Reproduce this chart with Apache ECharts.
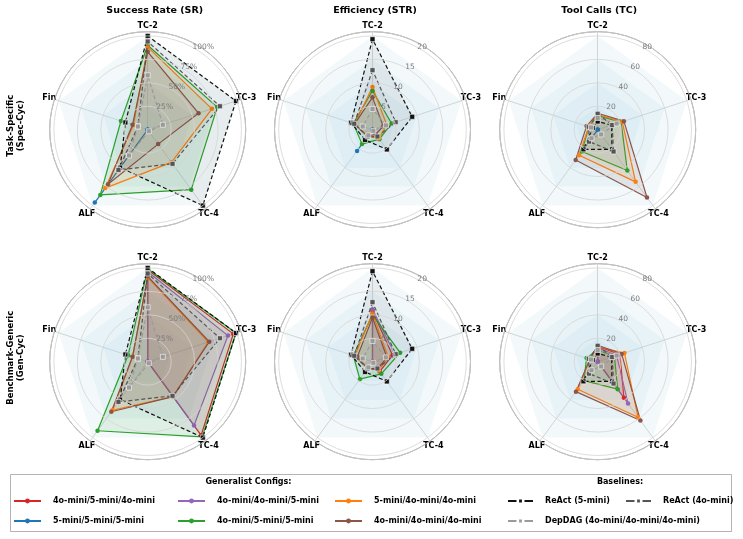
<!DOCTYPE html>
<html><head><meta charset="utf-8">
<script src="https://cdn.jsdelivr.net/npm/echarts@6/dist/echarts.min.js"></script>
<style>html,body{margin:0;padding:0;background:#fff}#c{width:743px;height:539px}</style>
</head><body><div id="c"></div>
<script>
// ---------- categories / ticks ----------
const axesNames = ['TC-2', 'TC-3', 'TC-4', 'ALF', 'Fin'];
const metricTitles = ['Success Rate (SR)', 'Efficiency (STR)', 'Tool Calls (TC)'];
const rowLabels = ['Task-Specific\n(Spec-Cyc)', 'Benchmark-Generic\n(Gen-Cyc)'];
const metricTopTick = [100, 20, 80];
const metricTickStep = [25, 5, 20];
const metricSuffix = ['%', '', ''];
const bgLevels = [0.25, 0.5, 0.75, 1.0];

// ---------- values, order [TC-2, TC-3, TC-4, ALF, Fin] ----------
// Task-Specific (Spec-Cyc)
const specSR_5m5m5m = [0, 0, 0, 96, 0];
const specSR_4o5m5m = [90, 78, 79, 86, 30];
const specSR_5m4o4o = [88, 72, 43, 77, 16];
const specSR_4o4o4o = [83, 57, 19, 72, 17];
const specSTR_5m5m5m = [0, 0, 0, 5.6, 0];
const specSTR_4o5m5m = [8.3, 4.3, 2.5, 3.8, 4.3];
const specSTR_5m4o4o = [9.1, 3.2, 2.3, 1.8, 4.0];
const specSTR_4o4o4o = [6.9, 2.4, 1.2, 1.8, 4.0];
const specTC_5m5m5m = [0, 0, 0, 20, 0];
const specTC_4o5m5m = [12, 21, 43, 23, 8];
const specTC_5m4o4o = [13, 22, 55, 27, 8];
const specTC_4o4o4o = [14, 23.5, 71.5, 32, 10];
// Benchmark-Generic (Gen-Cyc)
const genSR_4o5m4o = [98, 96, 97, 0, 0];
const genSR_4o4o5m = [96, 90, 84, 0, 0];
const genSR_4o5m5m = [99, 99, 99, 91, 22];
const genSR_5m4o4o = [90, 68, 46, 64, 17];
const genSR_4o4o4o = [91, 69, 46, 66, 17];
const genSTR_4o5m4o = [10.8, 4.5, 2.6, 0, 0];
const genSTR_4o4o5m = [11.2, 5.0, 1.5, 0, 0];
const genSTR_4o5m5m = [10.0, 6.2, 3.2, 4.6, 4.3];
const genSTR_5m4o4o = [10.3, 3.5, 2.3, 1.8, 4.0];
const genSTR_4o4o4o = [9.4, 3.2, 2.0, 1.8, 3.4];
const genTC_4o5m4o = [13, 20, 38, 0, 0];
const genTC_4o4o5m = [12, 17, 44, 0, 0];
const genTC_4o5m5m = [10, 15, 29, 20, 10];
const genTC_5m4o4o = [13, 24, 58.5, 29, 7];
const genTC_4o4o4o = [14, 21.5, 62, 31.6, 7];
// Baselines
const reactSR_5m = [100, 99, 100, 50, 25];
const reactSR_4o = [94, 81, 45, 53, 11];
const depdagSR = [58, 17, 2, 34, 11];
const reactSTR_5m = [19.3, 8.9, 5.2, 2.7, 4.8];
const reactSTR_4o = [12.7, 5.2, 1.8, 1.8, 4.1];
const depdagSTR = [4.4, 3.0, 0.3, 1.5, 2.2];
const reactTC_5m = [7, 12.5, 20.7, 20.7, 4.5];
const reactTC_4o = [13.5, 13, 23, 12.6, 8];
const depdagTC = [10, 17, 5, 9, 6];

// ---------- series names ----------
const N_RED = '4o-mini/5-mini/4o-mini', N_BLUE = '5-mini/5-mini/5-mini', N_PURPLE = '4o-mini/4o-mini/5-mini',
      N_GREEN = '4o-mini/5-mini/5-mini', N_ORANGE = '5-mini/4o-mini/4o-mini', N_BROWN = '4o-mini/4o-mini/4o-mini',
      N_R5 = 'ReAct (5-mini)', N_R4 = 'ReAct (4o-mini)', N_DD = 'DepDAG (4o-mini/4o-mini/4o-mini)';

const styles = {};
styles[N_RED] = {color: '#d62728', base: false};
styles[N_BLUE] = {color: '#1f77b4', base: false};
styles[N_PURPLE] = {color: '#9467bd', base: false};
styles[N_GREEN] = {color: '#2ca02c', base: false};
styles[N_ORANGE] = {color: '#ff7f0e', base: false};
styles[N_BROWN] = {color: '#8c564b', base: false};
styles[N_R5] = {color: '#111111', base: true};
styles[N_R4] = {color: '#555555', base: true};
styles[N_DD] = {color: '#9a9a9a', base: true};

const panels = [
  {row: 0, col: 0, entries: [[N_BLUE, specSR_5m5m5m], [N_GREEN, specSR_4o5m5m], [N_ORANGE, specSR_5m4o4o], [N_BROWN, specSR_4o4o4o], [N_R5, reactSR_5m], [N_R4, reactSR_4o], [N_DD, depdagSR]]},
  {row: 0, col: 1, entries: [[N_BLUE, specSTR_5m5m5m], [N_GREEN, specSTR_4o5m5m], [N_ORANGE, specSTR_5m4o4o], [N_BROWN, specSTR_4o4o4o], [N_R5, reactSTR_5m], [N_R4, reactSTR_4o], [N_DD, depdagSTR]]},
  {row: 0, col: 2, entries: [[N_BLUE, specTC_5m5m5m], [N_GREEN, specTC_4o5m5m], [N_ORANGE, specTC_5m4o4o], [N_BROWN, specTC_4o4o4o], [N_R5, reactTC_5m], [N_R4, reactTC_4o], [N_DD, depdagTC]]},
  {row: 1, col: 0, entries: [[N_RED, genSR_4o5m4o], [N_PURPLE, genSR_4o4o5m], [N_GREEN, genSR_4o5m5m], [N_ORANGE, genSR_5m4o4o], [N_BROWN, genSR_4o4o4o], [N_R5, reactSR_5m], [N_R4, reactSR_4o], [N_DD, depdagSR]]},
  {row: 1, col: 1, entries: [[N_RED, genSTR_4o5m4o], [N_PURPLE, genSTR_4o4o5m], [N_GREEN, genSTR_4o5m5m], [N_ORANGE, genSTR_5m4o4o], [N_BROWN, genSTR_4o4o4o], [N_R5, reactSTR_5m], [N_R4, reactSTR_4o], [N_DD, depdagSTR]]},
  {row: 1, col: 2, entries: [[N_RED, genTC_4o5m4o], [N_PURPLE, genTC_4o4o5m], [N_GREEN, genTC_4o5m5m], [N_ORANGE, genTC_5m4o4o], [N_BROWN, genTC_4o4o4o], [N_R5, reactTC_5m], [N_R4, reactTC_4o], [N_DD, depdagTC]]}
];

// ---------- layout ----------
const FONT = 'DejaVu Sans';
const centersX = [147.7, 372.5, 597.7];
const centersY = [129.7, 361.7];
const titleX = [154.7, 375, 599.2];
const R = 98;
const FRAME = 1.045;
const order = [0, 4, 3, 2, 1]; // radar goes counter-clockwise

const polar = [], angleAxis = [], radiusAxis = [], radar = [], series = [];

// legend-icon carrier series (line type gives line+marker icons)
Object.keys(styles).forEach(name => {
  const s = styles[name];
  series.push({type: 'line', name, coordinateSystem: 'polar', polarIndex: 0, data: [],
    symbol: s.base ? 'rect' : 'circle',
    lineStyle: {color: s.color, width: 2, type: s.base ? [8.5, 8] : 'solid'},
    itemStyle: {color: s.color, borderColor: s.base ? '#fff' : s.color, borderWidth: s.base ? 0.5 : 0}});
});

panels.forEach((p, i) => {
  const cx = centersX[p.col], cy = centersY[p.row];
  const T = metricTopTick[p.col], step = metricTickStep[p.col], M = T * FRAME;
  polar.push({center: [cx, cy], radius: R});
  angleAxis.push({polarIndex: i, type: 'value', min: 0, max: 360, startAngle: 59, clockwise: true,
    axisLine: {show: true, lineStyle: {color: '#8a8a8a', width: 1}},
    axisTick: {show: false}, axisLabel: {show: false}, splitLine: {show: false}});
  radiusAxis.push({polarIndex: i, type: 'value', min: 0, max: M, interval: step, z: 10,
    axisLine: {show: false}, axisTick: {show: false},
    splitLine: {show: true, lineStyle: {color: '#d4d4d4', width: 0.8}},
    axisLabel: {margin: 4, align: 'left', verticalAlign: 'middle', color: '#7a7a7a', fontSize: 7.5, fontFamily: FONT,
      formatter: v => (v > 0 && v <= T + 1e-6) ? (v + metricSuffix[p.col]) : ''}});
  radar.push({center: [cx, cy], radius: R, startAngle: 90, shape: 'circle', splitNumber: 4,
    indicator: order.map(k => ({name: axesNames[k], min: 0, max: M})),
    axisName: {color: '#000', fontWeight: 'bold', fontSize: 8, fontFamily: FONT, align: 'center', verticalAlign: 'middle'},
    nameGap: 5.5,
    splitLine: {show: false}, splitArea: {show: false},
    axisLine: {lineStyle: {color: '#cccccc', width: 0.8}}, axisTick: {show: false}, axisLabel: {show: false}});
  // background pentagons
  series.push({type: 'radar', radarIndex: i, silent: true, symbol: 'none', z: 1,
    lineStyle: {width: 0, opacity: 0},
    areaStyle: {color: 'rgba(173,216,230,0.2)'},
    data: bgLevels.map(f => ({value: axesNames.map(() => T * f)}))});
  p.entries.forEach(([name, vals]) => {
    const s = styles[name];
    series.push({type: 'radar', radarIndex: i, name, z: s.base ? 4 : 3,
      symbol: s.base ? 'rect' : 'circle', symbolSize: s.base ? 5 : 4.5,
      lineStyle: {color: s.color, width: 1.2, type: s.base ? [4, 2.5] : 'solid'},
      itemStyle: {color: s.color, borderColor: s.base ? '#ffffff' : s.color, borderWidth: s.base ? 0.6 : 0},
      areaStyle: {color: s.color, opacity: s.base ? 0.05 : 0.1},
      data: [{name, value: order.map(k => vals[k])}]});
  });
});

const legendText = {fontFamily: FONT, fontSize: 8, fontWeight: 'bold', color: '#000', padding: [0, 0, 0, 7]};
function mkLegend(data, left, w) {
  return {data, left, top: 497, padding: 0, orient: 'vertical', itemWidth: w, itemHeight: 6, itemGap: 12,
    textStyle: legendText, inactiveColor: '#ccc'};
}
const legend = [
  mkLegend([N_RED, N_BLUE], 13, 27),
  mkLegend([N_PURPLE, N_GREEN], 177, 27),
  mkLegend([N_ORANGE, N_BROWN], 334, 27),
  mkLegend([N_R5, N_DD], 507, 25),
  mkLegend([N_R4], 625, 25)
];

const graphic = [];
metricTitles.forEach((t, c) => graphic.push({type: 'text', x: titleX[c], y: 11,
  style: {text: t, textAlign: 'center', textVerticalAlign: 'middle', align: 'center', verticalAlign: 'middle',
    fontFamily: FONT, fontSize: 9.5, fontWeight: 'bold', fill: '#000'}}));
rowLabels.forEach((t, r) => graphic.push({type: 'text', x: 15.5, y: centersY[r] - 4, rotation: Math.PI / 2,
  style: {text: t, textAlign: 'center', textVerticalAlign: 'middle', align: 'center', verticalAlign: 'middle',
    fontFamily: FONT, fontSize: 8.5, fontWeight: 'bold', fill: '#000', lineHeight: 10}}));
graphic.push({type: 'rect', z: -10, shape: {x: 10.5, y: 474.5, width: 721, height: 57},
  style: {fill: '#fff', stroke: '#b3b3b3', lineWidth: 1}});
[['Generalist Configs:', 248.5], ['Baselines:', 620]].forEach(([t, x]) => graphic.push({type: 'text', x, y: 481.5,
  style: {text: t, textAlign: 'center', textVerticalAlign: 'middle', align: 'center', verticalAlign: 'middle',
    fontFamily: FONT, fontSize: 8, fontWeight: 'bold', fill: '#000'}}));

const chart = echarts.init(document.getElementById('c'), null, {renderer: 'canvas'});
chart.setOption({
  animation: false,
  backgroundColor: '#fff',
  textStyle: {fontFamily: FONT},
  polar, angleAxis, radiusAxis, radar, legend, graphic, series
});
</script></body></html>
